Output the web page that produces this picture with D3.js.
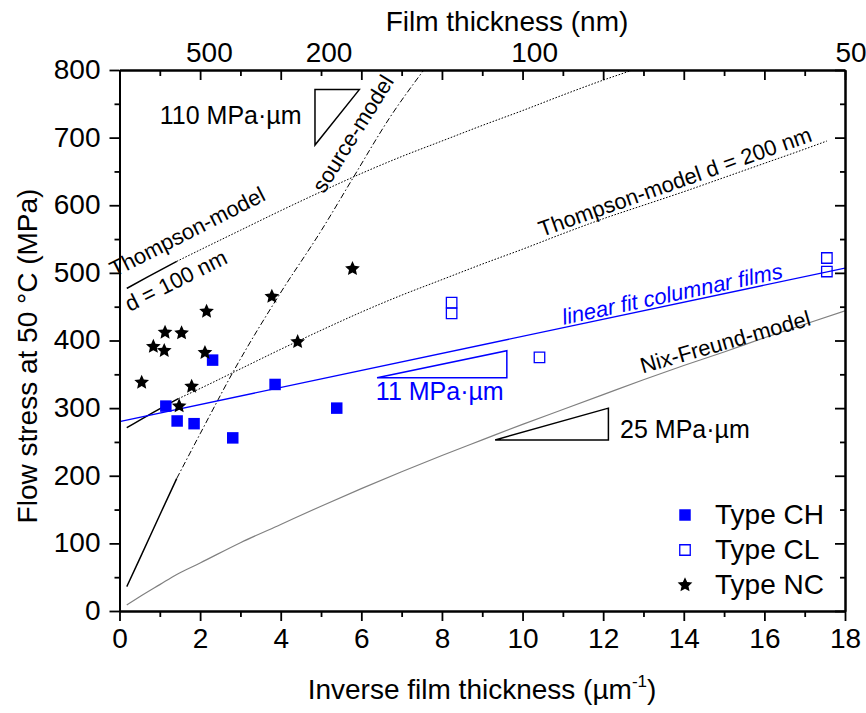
<!DOCTYPE html>
<html>
<head>
<meta charset="utf-8">
<script src="https://cdn.jsdelivr.net/npm/d3@7"></script>
<style>
  body { margin: 0; background: #fff; }
  svg text { font-family: "Liberation Sans", Arial, sans-serif; fill: #000; }
</style>
</head>
<body>
<svg id="chart" width="866" height="713"></svg>
<script>
// ---- measured flow stresses (x: inverse thickness in 1/µm, y: MPa) ----
const chX = [1.15, 1.43, 1.85, 2.31, 2.81, 3.86, 5.39];
const chY = [303, 281, 277, 371, 256, 335, 300];

const clX = [8.24, 8.24, 10.42, 17.55, 17.55];
const clY = [456, 440, 375, 522, 502];

const ncX = [0.55, 0.84, 1.13, 1.11, 1.54, 2.16, 2.12, 1.79, 1.48, 3.78, 4.42, 5.78];
const ncY = [338, 391, 412, 385, 411, 443, 382, 332, 303, 465, 398, 506];

// ---- linear fit through the columnar films ----
const fitX = [0, 18];
const fitY = [280, 507];

// ---- model curves ----
const nixX = [0.18, 0.5, 1, 1.42, 2, 3, 4, 5, 6, 7, 8, 9, 10, 11, 12, 13, 14, 15, 16, 17, 18];
const nixY = [9, 21, 39, 54, 71, 101, 128, 155, 181, 206, 230, 253, 276, 298, 320, 342, 363, 383, 404, 424, 444];

const th200X = [0.18, 0.7, 1.46, 2, 3, 4, 5, 6, 7, 8, 9, 10, 11, 12, 13, 14, 15, 16, 17, 17.55];
const th200Y = [271, 289, 314, 329, 358, 387, 415, 442, 467, 490, 513, 535, 558, 580, 600, 620, 641, 662, 683, 695];

const th100X = [0.18, 0.7, 1.42, 2, 3, 4, 5, 6, 7, 8, 9, 10, 11, 12, 12.74];
const th100Y = [477, 494, 517, 534, 563, 592, 620, 647, 672, 695, 718, 740, 763, 785, 800];

const srcX = [0.18, 0.5, 1, 1.42, 2, 2.87, 3.99, 5, 5.8, 6.71, 7.55];
const srcY = [36, 77, 142, 196, 262, 359, 470, 562, 641, 730, 800];

// ---- axis ticks ----
const xMajor = [0, 2, 4, 6, 8, 10, 12, 14, 16, 18];
const xMinor = [1, 3, 5, 7, 9, 11, 13, 15, 17];
const yMajor = [0, 100, 200, 300, 400, 500, 600, 700, 800];
const yMinor = [50, 150, 250, 350, 450, 550, 650, 750];
const topLabels = ["500", "200", "100", "50"];
const topLabelAt = [2.23, 5.2, 10.3, 18.15];

// ---- slope triangles: [x0, x1, yLow, yHigh] in data units ----
const tri110 = [4.85, 5.95, 689, 771];
const tri11 = [6.39, 9.61, 345, 385];
const tri25 = [9.32, 12.13, 253, 300];

const FONT = '"Liberation Sans", Arial, sans-serif';
const BLUE = "#0000ff";

const svg = d3.select("#chart");
const x = d3.scaleLinear().domain([0, 18]).range([119.5, 845]);
const y = d3.scaleLinear().domain([0, 800]).range([611, 70]);
const zip = (a, b) => a.map((v, i) => [v, b[i]]);

svg.append("rect").attr("width", 866).attr("height", 713).attr("fill", "#fff");

svg.append("defs").append("clipPath").attr("id", "plotClip")
  .append("rect")
  .attr("x", x(0)).attr("y", y(800))
  .attr("width", x(18) - x(0)).attr("height", y(0) - y(800));

const plot = svg.append("g").attr("clip-path", "url(#plotClip)");
const line = d3.line().x(d => x(d[0])).y(d => y(d[1]));
const smooth = d3.line().x(d => x(d[0])).y(d => y(d[1])).curve(d3.curveMonotoneX);

// Nix-Freund model
plot.append("path").datum(zip(nixX, nixY))
  .attr("d", smooth).attr("fill", "none")
  .attr("stroke", "#808080").attr("stroke-width", 1.2);

// Thompson, source models: dense start drawn solid, remainder patterned
function modelCurve(xs, ys, solidTo, dash, width) {
  const pts = zip(xs, ys);
  plot.append("path").datum(pts.filter(p => p[0] <= solidTo))
    .attr("d", smooth).attr("fill", "none")
    .attr("stroke", "#000").attr("stroke-width", 1.5);
  plot.append("path").datum(pts.filter(p => p[0] >= solidTo))
    .attr("d", smooth).attr("fill", "none")
    .attr("stroke", "#000").attr("stroke-width", width)
    .attr("stroke-dasharray", dash);
}
modelCurve(th200X, th200Y, 1.46, "1.6,1.6", 1);
modelCurve(th100X, th100Y, 1.42, "1.6,1.6", 1);
modelCurve(srcX, srcY, 1.42, "6,2.5,1.5,2.5", 1);

// linear fit
plot.append("path").datum(zip(fitX, fitY))
  .attr("d", line).attr("fill", "none")
  .attr("stroke", BLUE).attr("stroke-width", 1.3);

// slope triangles
function slopeTriangle(t, color, rightAngleTopLeft) {
  const [x0, x1, yl, yh] = t;
  const pts = rightAngleTopLeft
    ? [[x0, yh], [x1, yh], [x0, yl]]
    : [[x0, yl], [x1, yl], [x1, yh]];
  svg.append("path")
    .attr("d", line(pts) + "Z")
    .attr("fill", "none").attr("stroke", color).attr("stroke-width", 1.5);
}
slopeTriangle(tri110, "#000", true);
slopeTriangle(tri11, BLUE, false);
slopeTriangle(tri25, "#000", false);

// ---- axes ----
function styleAxis(g) {
  g.selectAll(".domain").attr("stroke", "#000").attr("stroke-width", 2);
  g.selectAll(".tick line").attr("stroke", "#000").attr("stroke-width", 1.8);
  g.selectAll(".tick text").attr("font-size", 28).attr("font-family", FONT).attr("fill", "#000");
}
const fmtNone = () => "";

svg.append("g").attr("transform", `translate(0,${y(0)})`)
  .call(d3.axisBottom(x).tickValues(xMinor).tickSize(6).tickSizeOuter(0).tickFormat(fmtNone))
  .call(styleAxis);
svg.append("g").attr("transform", `translate(0,${y(0)})`)
  .call(d3.axisBottom(x).tickValues(xMajor).tickSize(10).tickPadding(7).tickSizeOuter(0).tickFormat(d3.format("d")))
  .call(styleAxis);

svg.append("g").attr("transform", `translate(0,${y(800)})`)
  .call(d3.axisTop(x).tickValues(xMinor).tickSize(-6).tickSizeOuter(0).tickFormat(fmtNone))
  .call(styleAxis);
svg.append("g").attr("transform", `translate(0,${y(800)})`)
  .call(d3.axisTop(x).tickValues(xMajor).tickSize(-10).tickSizeOuter(0).tickFormat(fmtNone))
  .call(styleAxis);

svg.append("g").attr("transform", `translate(${x(0)},0)`)
  .call(d3.axisLeft(y).tickValues(yMinor).tickSize(5).tickSizeOuter(0).tickFormat(fmtNone))
  .call(styleAxis);
svg.append("g").attr("transform", `translate(${x(0)},0)`)
  .call(d3.axisLeft(y).tickValues(yMajor).tickSize(10).tickPadding(9).tickSizeOuter(0).tickFormat(d3.format("d")))
  .call(styleAxis)
  .selectAll(".tick text").attr("dy", "0.3em");

svg.append("g").attr("transform", `translate(${x(18)},0)`)
  .call(d3.axisRight(y).tickValues(yMinor).tickSize(-5).tickSizeOuter(0).tickFormat(fmtNone))
  .call(styleAxis);
svg.append("g").attr("transform", `translate(${x(18)},0)`)
  .call(d3.axisRight(y).tickValues(yMajor).tickSize(-10).tickSizeOuter(0).tickFormat(fmtNone))
  .call(styleAxis);

// film thickness labels along the top
svg.append("g").selectAll("text").data(topLabels).join("text")
  .attr("x", (d, i) => x(topLabelAt[i])).attr("y", 62)
  .attr("text-anchor", "middle").attr("font-size", 28)
  .text(d => d);

// axis titles
svg.append("text").attr("x", 507).attr("y", 31)
  .attr("text-anchor", "middle").attr("font-size", 28)
  .text("Film thickness (nm)");

const xt = svg.append("text").attr("x", 482).attr("y", 699)
  .attr("text-anchor", "middle").attr("font-size", 28);
xt.append("tspan").text("Inverse film thickness (µm");
xt.append("tspan").attr("font-size", 17).attr("dy", -12).text("-1");
xt.append("tspan").attr("dy", 12).text(")");

svg.append("text").attr("transform", "translate(37,356) rotate(-90)")
  .attr("text-anchor", "middle").attr("font-size", 28)
  .text("Flow stress at 50 °C (MPa)");

// ---- data markers ----
// five-pointed star with a fuller body than d3.symbolStar
const fatStar = {
  draw(ctx, size) {
    const R = Math.sqrt(size) / 2, r = R * 0.47;
    for (let k = 0; k < 10; k++) {
      const rad = k % 2 ? r : R;
      const a = -Math.PI / 2 + k * Math.PI / 5;
      const px = rad * Math.cos(a), py = rad * Math.sin(a);
      k ? ctx.lineTo(px, py) : ctx.moveTo(px, py);
    }
    ctx.closePath();
  }
};
const star = d3.symbol().type(fatStar).size(240);
const square = d3.symbol().type(d3.symbolSquare).size(132);
const openSquare = d3.symbol().type(d3.symbolSquare).size(110);

svg.append("g").selectAll("path").data(zip(chX, chY)).join("path")
  .attr("transform", d => `translate(${x(d[0])},${y(d[1])})`)
  .attr("d", square).attr("fill", BLUE);

svg.append("g").selectAll("path").data(zip(clX, clY)).join("path")
  .attr("transform", d => `translate(${x(d[0])},${y(d[1])})`)
  .attr("d", openSquare).attr("fill", "none").attr("stroke", BLUE).attr("stroke-width", 1.3);

svg.append("g").selectAll("path").data(zip(ncX, ncY)).join("path")
  .attr("transform", d => `translate(${x(d[0])},${y(d[1])})`)
  .attr("d", star).attr("fill", "#000");

// ---- curve labels ----
function curveLabel(txt, cx, cy, angle, size, color, italic) {
  svg.append("text")
    .attr("transform", `translate(${x(cx)},${y(cy)}) rotate(${angle})`)
    .attr("text-anchor", "middle").attr("dy", "0.35em")
    .attr("font-size", size)
    .attr("font-style", italic ? "italic" : "normal")
    .style("fill", color)
    .text(txt);
}
curveLabel("source-model", 5.79, 706, -58, 22, "#000");
curveLabel("Thompson-model", 1.68, 561, -27, 22, "#000");
curveLabel("d = 100 nm", 1.40, 489, -26.5, 22, "#000");
curveLabel("Thompson-model d = 200 nm", 13.78, 635, -19.5, 22, "#000");
curveLabel("linear fit columnar films", 13.71, 469, -12, 22, BLUE, true);
curveLabel("Nix-Freund-model", 15.03, 398, -16, 22, "#000");

// slope annotations
function slopeText(txt, x0, yb, color) {
  svg.append("text").attr("x", x(x0)).attr("y", y(yb))
    .attr("font-size", 25).style("fill", color).text(txt);
}
slopeText("110 MPa·µm", 1.0, 720, "#000");
slopeText("11 MPa·µm", 6.36, 312, BLUE);
slopeText("25 MPa·µm", 12.42, 256, "#000");

// ---- legend ----
const legendItems = [
  { label: "Type CH", sym: square, fill: BLUE, stroke: "none" },
  { label: "Type CL", sym: openSquare, fill: "none", stroke: BLUE },
  { label: "Type NC", sym: star, fill: "#000", stroke: "none" }
];
const lg = svg.append("g").attr("transform", "translate(685,515)");
legendItems.forEach((it, i) => {
  const row = lg.append("g").attr("transform", `translate(0,${i * 35})`);
  row.append("path").attr("d", it.sym).attr("fill", it.fill)
    .attr("stroke", it.stroke).attr("stroke-width", 1.3);
  row.append("text").attr("x", 30).attr("y", 9).attr("font-size", 28).text(it.label);
});
</script>
</body>
</html>
